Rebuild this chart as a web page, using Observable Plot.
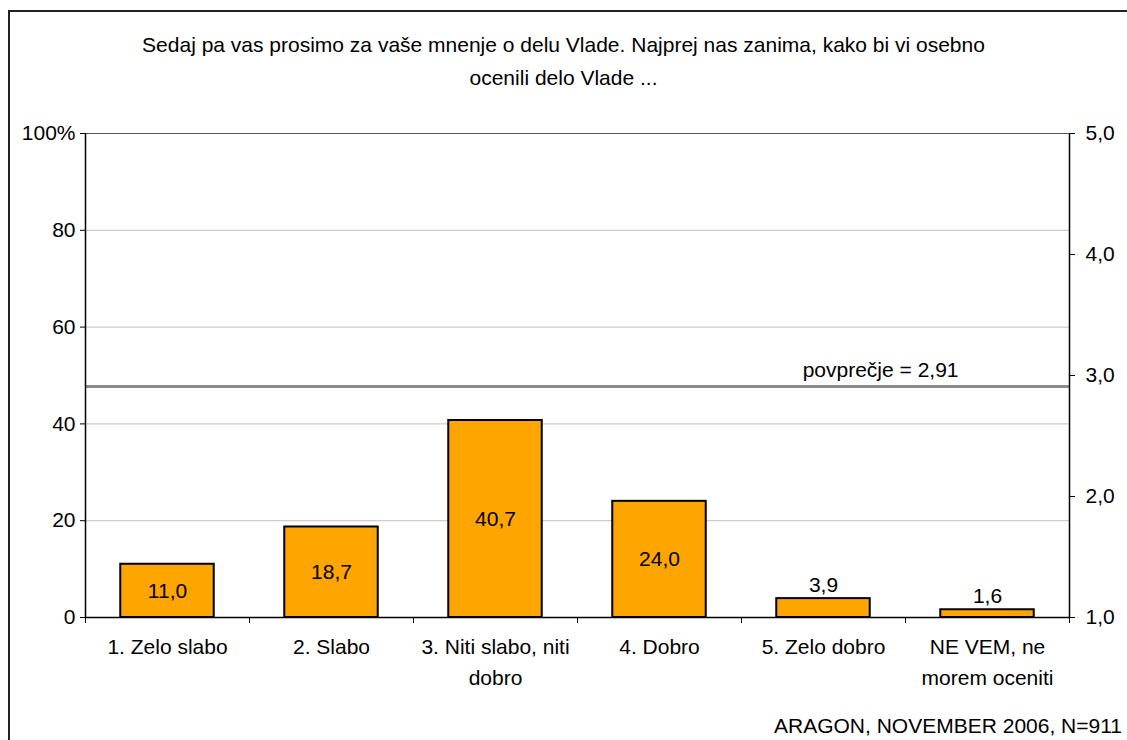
<!DOCTYPE html>
<html>
<head>
<meta charset="utf-8">
<script src="https://cdn.jsdelivr.net/npm/d3@7"></script>
<script src="https://cdn.jsdelivr.net/npm/@observablehq/plot@0.6"></script>
<style>
  html, body { margin: 0; padding: 0; background: #fff; overflow: hidden; }
  body { width: 1127px; height: 740px; position: relative; font-family: "Liberation Sans", Arial, sans-serif; color: #000; }
  #border { position: absolute; left: 8px; top: 10px; width: 1300px; height: 900px; border: 2px solid #222; box-sizing: border-box; }
  #title { position: absolute; left: 0; top: 28px; width: 1127px; text-align: center; font-size: 21px; line-height: 33px; }
  #chart { position: absolute; left: 0; top: 100px; }
  #caption { position: absolute; right: 5px; top: 714px; font-size: 21px; line-height: 24px; white-space: nowrap; }
</style>
</head>
<body>
<div id="border"></div>
<div id="title">Sedaj pa vas prosimo za vaše mnenje o delu Vlade. Najprej nas zanima, kako bi vi osebno<br>ocenili delo Vlade ...</div>
<div id="chart"></div>
<div id="caption">ARAGON, NOVEMBER 2006, N=911</div>
<script>
const categories = ["1. Zelo slabo", "2. Slabo", "3. Niti slabo, niti\ndobro", "4. Dobro", "5. Zelo dobro", "NE VEM, ne\nmorem oceniti"];
const values = [11.0, 18.7, 40.7, 24.0, 3.9, 1.6];
const leftTicks = [0, 20, 40, 60, 80, 100];
const rightTicks = [1, 2, 3, 4, 5];
const average = 2.91;
const averageLabel = "povprečje = 2,91";

const rightMin = 1, rightMax = 5;
const toLeft = v => (v - rightMin) / (rightMax - rightMin) * 100;
const fromLeft = d => d / 100 * (rightMax - rightMin) + rightMin;
const fmt = v => v.toFixed(1).replace(".", ",");

const pad = 0.43;
const data = categories.map((c, i) => ({i, c, v: values[i]}));
const boundaries = d3.range(categories.length + 1);

const plot = Plot.plot({
  width: 1127,
  height: 600,
  marginTop: 33,
  marginBottom: 83,
  marginLeft: 85,
  marginRight: 58,
  style: {fontFamily: '"Liberation Sans", Arial, sans-serif', fontSize: "21px", color: "#000", background: "transparent"},
  x: {type: "linear", domain: [0, categories.length]},
  y: {domain: [0, 100]},
  marks: [
    Plot.gridY(leftTicks.filter(t => t > 0 && t < 100), {stroke: "#c0c0c0", strokeOpacity: 1}),
    Plot.ruleY([100], {stroke: "#555"}),
    Plot.ruleY([toLeft(average)], {stroke: "#8c8c8c", strokeWidth: 3}),
    Plot.text([averageLabel], {frameAnchor: "right", y: [toLeft(average)], text: d => d, textAnchor: "end", lineAnchor: "bottom", dx: -111, dy: -9}),
    Plot.rectY(data, {x1: d => d.i + pad / 2, x2: d => d.i + 1 - pad / 2, y1: 0, y2: "v", fill: "#ffa500", stroke: "#000", strokeWidth: 2}),
    Plot.text(data.filter(d => d.v >= 10), {x: d => d.i + 0.5, y: d => d.v / 2, text: d => fmt(d.v), lineAnchor: "middle"}),
    Plot.text(data.filter(d => d.v < 10), {x: d => d.i + 0.5, y: "v", text: d => fmt(d.v), lineAnchor: "bottom", dy: -7}),
    Plot.ruleX([0, categories.length], {stroke: "#000", strokeWidth: 1.5}),
    Plot.ruleY([0], {stroke: "#000", strokeWidth: 1.5}),
    Plot.axisY(leftTicks, {anchor: "left", label: null, tickSize: 5, tickPadding: 5, tickFormat: d => d === 100 ? "100%" : String(d), stroke: "#000"}),
    Plot.axisY(rightTicks.map(toLeft), {anchor: "right", label: null, tickSize: 5, tickPadding: 11, tickFormat: d => fmt(fromLeft(d)), stroke: "#000"}),
    Plot.axisX(boundaries, {anchor: "bottom", label: null, tickSize: 6, tickFormat: () => "", stroke: "#000"}),
    Plot.text(data, {x: d => d.i + 0.5, frameAnchor: "bottom", text: "c", lineAnchor: "top", dy: 15, lineHeight: 1.45})
  ]
});
document.getElementById("chart").appendChild(plot);
</script>
</body>
</html>
